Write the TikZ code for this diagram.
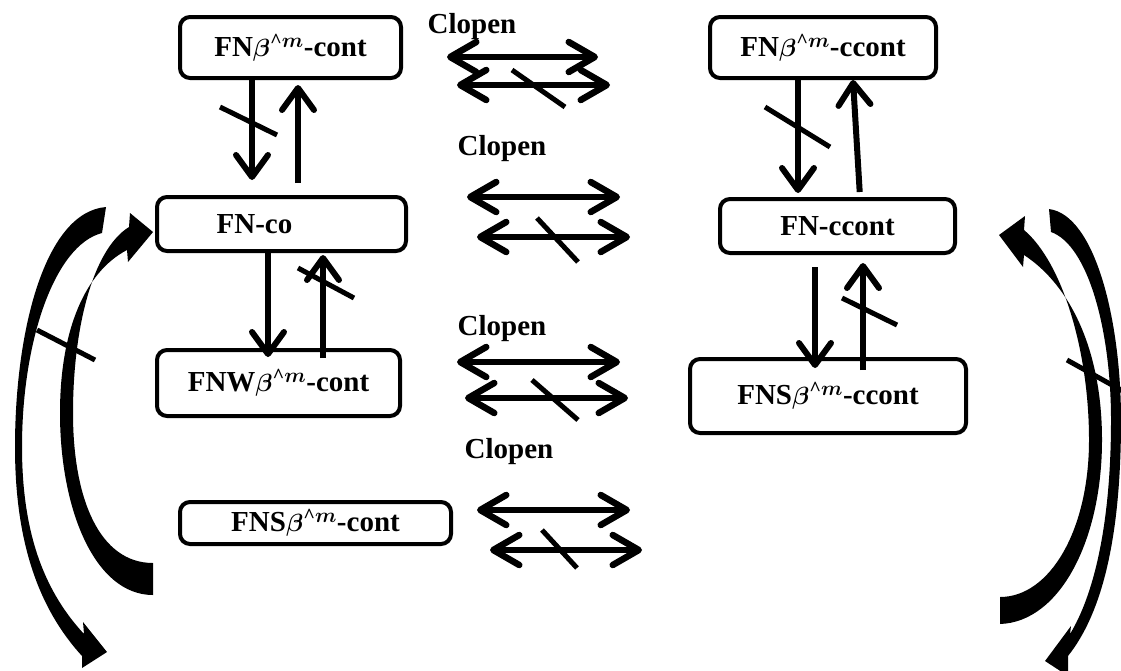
\documentclass[tikz,border=0pt]{standalone}
\usepackage{amsmath,amssymb}
\usepackage{fontspec}
\setmainfont{Liberation Serif}
\usetikzlibrary{arrows.meta, positioning}
\tikzset{
  boite/.style={
    draw,
    rectangle,
    rounded corners=10pt,
    line width=4pt,
    inner sep=0pt,
    align=center
  },
  fleche/.style={
    -{Straight Barb[length=22pt,width=32pt,round]},
    line width=6pt
  },
  allerretour/.style={
    {Straight Barb[length=26pt,width=30pt,round]}-{Straight Barb[length=26pt,width=30pt,round]},
    line width=6.5pt
  },
  barre/.style={
    line width=5pt
  }
}
\newcommand{\betam}{{\boldmath$\beta^{\text{\textasciicircum}m}$}}

\begin{document}
\begin{tikzpicture}[x=1pt, y=-1pt, font=\fontsize{29}{33}\selectfont\bfseries]
  \useasboundingbox (0,0) rectangle (1121,670);

  % Etats
  \node[boite, minimum width=221pt, minimum height=61pt] (fnBcont) at (290.5,47.5) {FN\betam-cont};
  \node[boite, minimum width=226pt, minimum height=61pt] (fnBccont) at (823,47.5) {FN\betam-ccont};
  \node[boite, minimum width=249pt, minimum height=54pt] (fnco) at (281.5,224) {FN-co\hspace*{54pt}};
  \node[boite, minimum width=235pt, minimum height=54pt] (fnccont) at (837.5,226) {FN-ccont};
  \node[boite, minimum width=243pt, minimum height=66pt] (fnwBcont) at (278.5,383) {FNW\betam-cont};
  \node[boite, minimum width=276pt, minimum height=74pt] (fnsBccont) at (828,396) {FNS\betam-ccont};
  \node[boite, minimum width=271pt, minimum height=42pt] (fnsBcont) at (315.5,523) {FNS\betam-cont};

  % Etiquettes
  \node[anchor=base] (clopen1) at (472,33) {Clopen};
  \node[anchor=base] (clopen2) at (502,155) {Clopen};
  \node[anchor=base] (clopen3) at (502,335) {Clopen};
  \node[anchor=base] (clopen4) at (509,458) {Clopen};

  % Fleches verticales (gauche)
  \draw[fleche, shorten >=15pt] ([xshift=-38.5]fnBcont.south) -- ([xshift=-29.5]fnco.north);
  \draw[fleche, shorten <=12pt, shorten >=5pt] ([xshift=16.5]fnco.north) -- ([xshift=7.5]fnBcont.south);
  \draw[fleche, shorten >=-9pt] ([xshift=-13.5]fnco.south) -- ([xshift=-10.5]fnwBcont.north);
  \draw[fleche, shorten <=-10pt, shorten >=2pt] ([xshift=44.5]fnwBcont.north) -- ([xshift=41.5]fnco.south);

  % Fleches verticales (droite)
  \draw[fleche, shorten >=4pt] ([xshift=-25]fnBccont.south) -- ([xshift=-39.5]fnccont.north);
  \draw[fleche, shorten <=5pt] ([xshift=22.5]fnccont.north) -- ([xshift=30]fnBccont.south);
  \draw[fleche, shorten <=12pt, shorten >=-11pt] ([xshift=-22.5]fnccont.south) -- ([xshift=-13]fnsBccont.north);
  \draw[fleche, shorten <=-13pt, shorten >=8pt] ([xshift=35]fnsBccont.north) -- ([xshift=25.5]fnccont.south);

  % Barres (non-implication)
  \draw[barre] (220,107) -- (277,135);
  \draw[barre] (298,268) -- (354,298);
  \draw[barre] (765,107) -- (830,147);
  \draw[barre] (842,298) -- (897,325);
  \draw[barre] (37,330) -- (95,360);
  \draw[barre] (1067,360) -- (1130,395);

  % Doubles fleches Clopen
  \foreach \xa/\xb/\ya/\xc/\xd/\yb/\sa/\sb/\sc/\sd [count=\i] in {
      447/598/57/457/610/85/512/70/565/107,
      467/620/197/477/630/237/537/218/578/262,
      457/620/362/465/628/398/532/380/578/420,
      477/630/510/490/642/550/542/530/577/568}{
    \coordinate (hg\i) at (\xa,\ya);
    \coordinate (hd\i) at (\xb,\ya);
    \coordinate (bg\i) at (\xc,\yb);
    \coordinate (bd\i) at (\xd,\yb);
    \draw[allerretour] (hg\i) -- (hd\i);
    \draw[allerretour] (bg\i) -- (bd\i);
    \draw[barre] (\sa,\sb) -- (\sc,\sd);
  }

  % Grandes fleches courbes (gauche)
  \fill (106,207) .. controls (45,212) and (15,330) .. (15,447)
    .. controls (15,545) and (40,610) .. (82,656)
    -- (82,668) -- (107,652) -- (83,622) -- (84,634)
    .. controls (48,595) and (22,540) .. (22,447)
    .. controls (22,340) and (55,245) .. (102,233) -- cycle;
  \fill (153,595) .. controls (95,595) and (60,510) .. (60,413)
    .. controls (60,330) and (85,272) .. (127,250)
    -- (128,262) -- (153,232) -- (130,213) -- (129,227)
    .. controls (92,250) and (73,330) .. (73,413)
    .. controls (73,500) and (100,563) .. (153,563) -- cycle;

  % Grandes fleches courbes (droite)
  \fill (1049,209) .. controls (1095,215) and (1121,320) .. (1121,420)
    .. controls (1121,535) and (1103,612) .. (1068,656)
    -- (1068,676) -- (1045,661) -- (1071,626) -- (1070,634)
    .. controls (1092,598) and (1111,530) .. (1111,420)
    .. controls (1111,330) and (1088,245) .. (1051,232) -- cycle;
  \fill (1000,624) .. controls (1060,622) and (1102,540) .. (1102,440)
    .. controls (1102,350) and (1070,285) .. (1024,255)
    -- (1023,267) -- (999,235) -- (1025,216) -- (1024,230)
    .. controls (1062,262) and (1089,350) .. (1089,440)
    .. controls (1089,530) and (1050,597) .. (1000,597) -- cycle;
\end{tikzpicture}
\end{document}
